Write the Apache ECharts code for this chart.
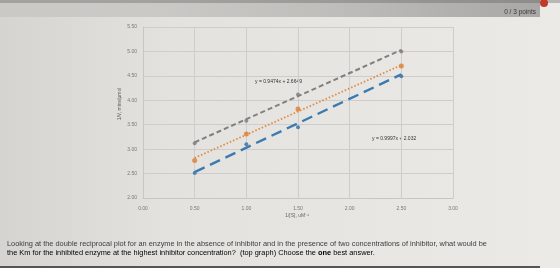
<!DOCTYPE html>
<html><head><meta charset="utf-8">
<script src="https://cdn.jsdelivr.net/npm/echarts@6/dist/echarts.min.js"></script>
<style>html,body{margin:0;padding:0;background:#e3e1dd}#c{width:560px;height:268px}</style>
</head><body><div id="c"></div>
<script>
// x categories (1/[S], uM^-1)
const xVals = [0.5, 1.0, 1.5, 2.5];
// series values (1/V)
const grayVals = [3.12, 3.58, 4.12, 5.00];
const orangeVals = [2.77, 3.31, 3.82, 4.70];
const blueVals = [2.51, 3.10, 3.45, 4.49];
// trendline endpoints
const trendX = [0.5, 2.5];
const grayTrend = [3.14, 5.03];
const orangeTrend = [2.82, 4.72];
const blueTrend = [2.53, 4.53];
// axis ticks
const xTicks = [0, 3, 0.5];
const yTicks = [2, 5.5, 0.5];
const eq1 = 'y = 0.9474x + 2.6649';
const eq2 = 'y = 0.9997x + 2.032';
const question1 = 'Looking at the double reciprocal plot for an enzyme in the absence of inhibitor and in the presence of two concentrations of inhibitor, what would be';

const pts = (xs, ys) => xs.map((x, i) => [x, ys[i]]);
const chart = echarts.init(document.getElementById('c'), null, {renderer: 'canvas'});
const tickFont = {fontSize: 5, color: '#777', fontFamily: 'Liberation Sans'};
const qFont = 7.4;
chart.setOption({
  animation: false,
  backgroundColor: {type: 'linear', x: 0, y: 0, x2: 1, y2: 0, colorStops: [
    {offset: 0, color: '#d6d4d0'}, {offset: 0.3, color: '#e4e2de'}, {offset: 1, color: '#ebeae6'}]},
  grid: {left: 143, right: 107, top: 27, bottom: 70},
  xAxis: {type: 'value', min: xTicks[0], max: xTicks[1], interval: xTicks[2],
    axisLine: {show: true, lineStyle: {color: '#c8c6c2'}}, axisTick: {show: false},
    axisLabel: Object.assign({formatter: v => v.toFixed(2), margin: 8}, tickFont),
    splitLine: {show: true, lineStyle: {color: '#cfcdc9', width: 1}}},
  yAxis: {type: 'value', min: yTicks[0], max: yTicks[1], interval: yTicks[2],
    axisLine: {show: true, lineStyle: {color: '#c8c6c2'}}, axisTick: {show: false},
    axisLabel: Object.assign({formatter: v => v.toFixed(2), margin: 6}, tickFont),
    splitLine: {show: true, lineStyle: {color: '#cfcdc9', width: 1}}},
  series: [
    {type: 'line', data: pts(trendX, grayTrend), symbol: 'none', silent: true,
      lineStyle: {color: '#808080', width: 2, type: [5, 3]}},
    {type: 'line', data: pts(trendX, orangeTrend), symbol: 'none', silent: true,
      lineStyle: {color: '#e08a3c', width: 1.8, type: [1.5, 2]}},
    {type: 'line', data: pts(trendX, blueTrend), symbol: 'none', silent: true,
      lineStyle: {color: '#3c7ab0', width: 2.4, type: [11, 6]}},
    {type: 'scatter', data: pts(xVals, grayVals), symbolSize: 4, itemStyle: {color: '#7a7a7a'}},
    {type: 'scatter', data: pts(xVals, orangeVals), symbolSize: 5, itemStyle: {color: '#e07a2e'}},
    {type: 'scatter', data: pts(xVals, blueVals), symbolSize: 4, itemStyle: {color: '#2f6fa8'}}
  ],
  graphic: [
    {type: 'rect', shape: {x: 0, y: 0, width: 540, height: 17}, silent: true,
      style: {fill: {type: 'linear', x: 0, y: 0, x2: 1, y2: 0, colorStops: [
        {offset: 0, color: 'rgba(160,158,155,0.2)'}, {offset: 0.6, color: 'rgba(160,158,155,0.55)'}, {offset: 1, color: '#a9a8a6'}]}}},
    {type: 'rect', shape: {x: 0, y: 0, width: 560, height: 3}, silent: true, style: {fill: 'rgba(90,90,90,0.35)'}},
    {type: 'circle', shape: {cx: 544, cy: 3, r: 4}, style: {fill: '#c0392b'}},
    {type: 'text', right: 24, top: 9, style: {text: '0 / 3 points', fontSize: 6.5, fill: '#3a3a3a', fontFamily: 'Liberation Sans'}},
    {type: 'text', left: 255, top: 79, style: {text: eq1, fontSize: 5, fill: '#333', fontFamily: 'Liberation Sans'}},
    {type: 'text', left: 372, top: 136, style: {text: eq2, fontSize: 5, fill: '#333', fontFamily: 'Liberation Sans'}},
    {type: 'text', x: 120, y: 104, rotation: Math.PI / 2, silent: true,
      style: {text: '1/V, mins/μmol', fontSize: 5, fill: '#666', fontFamily: 'Liberation Sans', align: 'center', verticalAlign: 'middle'}},
    {type: 'text', x: 297, y: 216, silent: true,
      style: {text: '1/[S], uM⁻¹', fontSize: 5, fill: '#666', fontFamily: 'Liberation Sans', align: 'center', verticalAlign: 'middle'}},
    {type: 'text', left: 7, top: 240, silent: true,
      style: {text: question1, fontSize: qFont, fill: '#3c3c3c', fontFamily: 'Liberation Sans'}},
    {type: 'text', left: 7, top: 249, silent: true,
      style: {text: '{n|the Km for the inhibited enzyme at the highest inhibitor concentration?  (top graph) Choose the }{b|one}{n| best answer.}',
        rich: {n: {fontSize: qFont, color: '#3c3c3c', fontFamily: 'Liberation Sans'},
               b: {fontSize: qFont, color: '#222', fontWeight: 'bold', fontFamily: 'Liberation Sans'}}}},
    {type: 'rect', shape: {x: 0, y: 266, width: 540, height: 2}, silent: true, style: {fill: '#555'}}
  ]
});
</script></body></html>
